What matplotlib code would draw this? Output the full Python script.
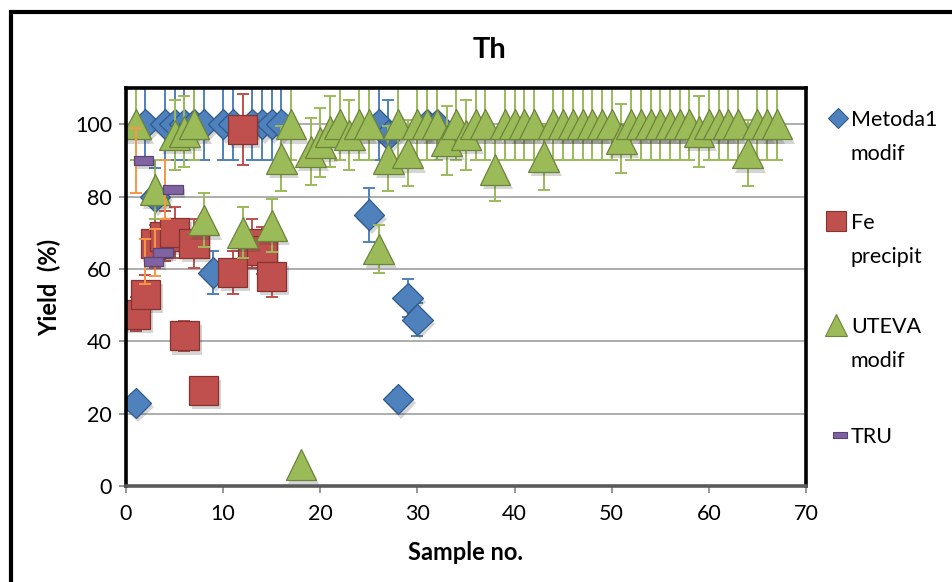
import numpy as np
import matplotlib.pyplot as plt
import matplotlib.patheffects as pe
import matplotlib.transforms as mtransforms
from matplotlib.lines import Line2D
from matplotlib.patches import Rectangle

plt.rcParams['font.family'] = ['Lato', 'DejaVu Sans']

# Metoda1 modif
m1_x = [1, 2, 3, 4, 5, 6, 7, 8, 9, 10, 11, 13, 14, 15, 16, 25, 26, 27, 28, 29, 30, 31, 32]
m1_y = [23, 100, 80, 100, 100, 100, 100, 100, 59, 100, 100, 100, 100, 100, 100, 75, 100, 97, 24, 52, 46, 100, 100]

# Fe precipit
fe_x = [1, 2, 3, 4, 5, 6, 7, 8, 11, 12, 13, 14, 15]
fe_y = [47.5, 53, 67, 69, 70, 41.5, 67, 26.5, 59, 98.5, 67, 65, 58]

# UTEVA modif
ut_x = [1, 3, 5, 6, 7, 8, 12, 15, 16, 17, 18, 19, 20, 21, 22, 23, 24, 25, 26, 27,
        28, 29, 30, 31, 32, 33, 34, 35, 36, 37, 38, 39, 40, 41, 42, 43, 44, 45, 46, 47,
        48, 49, 50, 51, 52, 53, 54, 55, 56, 57, 58, 59, 60, 61, 62, 63, 64, 65, 66, 67]
ut_y = [100, 82, 97, 98, 100, 73.5, 70, 72, 90.5, 100, 6, 92.5, 95, 98, 100, 97, 100, 100, 65.5, 90.5,
        100, 92, 100, 100, 100, 95.5, 100, 97, 100, 100, 87.5, 100, 100, 100, 100, 91, 100, 100, 100, 100,
        100, 100, 100, 96, 100, 100, 100, 100, 100, 100, 100, 98, 100, 100, 100, 100, 92, 100, 100, 100]

# TRU
tru_x = [1, 2, 3, 4]
tru_y = [90, 62, 64.5, 82]

# percentage error bars (10 %)
err_pct = 0.10

fig = plt.figure(figsize=(9.53, 5.82), dpi=100)
ax = fig.add_axes([126/953, 1-486/582, 680/953, 398/582])

shadow = [pe.SimplePatchShadow(offset=(2, -3), shadow_rgbFace='#404040', alpha=0.22), pe.Normal()]

def series(x, y, marker, ms, face, edge, ecol, z, dx=0):
    x = np.array(x, dtype=float)
    y = np.array(y, dtype=float)
    ax.errorbar(x, y, yerr=err_pct*y, fmt='none', ecolor=ecol, elinewidth=1.4,
                capsize=4.3, capthick=1.4, zorder=z)
    tr = mtransforms.offset_copy(ax.transData, fig=fig, x=dx, y=0, units='dots')
    ln, = ax.plot(x, y, linestyle='none', marker=marker, ms=ms, mfc=face, mec=edge,
                  mew=0.9, zorder=z + 0.5, transform=tr)
    ln.set_path_effects(shadow)

tru_mark = [(-1, -0.45), (1, -0.45), (1, 0.45), (-1, 0.45), (-1, -0.45)]
series(m1_x, m1_y, 'D', 15.5, '#4f81bd', '#2f5a8e', '#4f81bd', 3)
series(fe_x, fe_y, 's', 21, '#c0504d', '#853330', '#c0504d', 4)
series(ut_x, ut_y, '^', 22, '#9bbb59', '#6b843a', '#9bbb59', 5)
series(tru_x, tru_y, tru_mark, 14, '#8064a2', '#5a4575', '#f79646', 6, dx=8)

ax.set_xlim(0, 70)
ax.set_ylim(0, 110)
ax.set_xticks(range(0, 71, 10))
ax.set_yticks(range(0, 101, 20))
ax.yaxis.grid(True, color='#a0a0a0', linewidth=1.2)
ax.set_axisbelow(True)
ax.tick_params(labelsize=15.5, colors='#868686', labelcolor='black', length=5, width=1.2, pad=5)
ax.tick_params(axis='x', pad=8)

for s in ['left', 'top', 'right']:
    ax.spines[s].set_color('black')
    ax.spines[s].set_linewidth(2.6)
ax.spines['bottom'].set_color('#5a5a5a')
ax.spines['bottom'].set_linewidth(2.6)
for s in ax.spines.values():
    s.set_zorder(10)

ax.set_xlabel('Sample no.', fontsize=17, fontweight='bold', labelpad=12)
ax.set_ylabel('Yield  (%)', fontsize=17, fontweight='bold', labelpad=10)
fig.text(0.514, 1-50/582, 'Th', fontsize=21, fontweight='bold', ha='center', va='center')

# legend, drawn by hand
leg = [('D', 10.5, '#4f81bd', '#2f5a8e', 838, 118, ['Metoda1', 'modif']),
       ('s', 14, '#c0504d', '#853330', 836, 221, ['Fe', 'precipit']),
       ('^', 16, '#9bbb59', '#6b843a', 836, 325, ['UTEVA', 'modif']),
       (tru_mark, 10, '#8064a2', '#5a4575', 840, 435, ['TRU'])]
for mk, ms, fc, ec, px, py, lines in leg:
    fig.add_artist(Line2D([px/953], [1-py/582], marker=mk, ms=ms, mfc=fc, mec=ec, mew=0.8,
                          linestyle='none', transform=fig.transFigure))
    for i, t in enumerate(lines):
        fig.text(851/953, 1-(py + 2 + 34*i)/582, t, fontsize=15.5, ha='left', va='center')

# outer chart frame
fig.add_artist(Rectangle((11/953, -0.2), 1.2, 1.2 - 11.5/582, transform=fig.transFigure,
                         fill=False, edgecolor='black', linewidth=3))

fig.savefig('out.png', dpi=100)
